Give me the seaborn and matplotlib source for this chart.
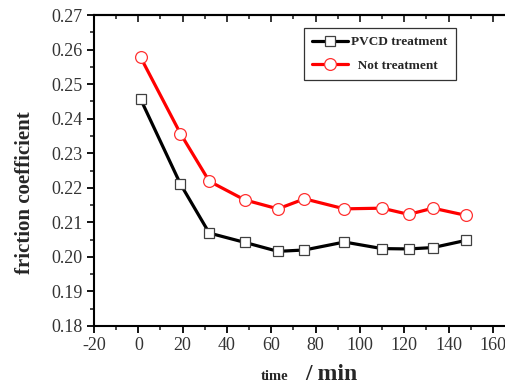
import numpy as np
import pandas as pd
import matplotlib
matplotlib.use("Agg")
import matplotlib.pyplot as plt
from matplotlib.ticker import MultipleLocator, FormatStrFormatter
import seaborn as sns

# values
time_min = [1, 19, 32, 48, 63, 75, 93, 110, 122, 133, 148]
pvcd_treatment = [0.2457, 0.2211, 0.2069, 0.2042, 0.2016, 0.2020, 0.2043, 0.2024, 0.2023, 0.2027, 0.2048]
not_treatment = [0.2578, 0.2357, 0.2219, 0.2165, 0.2139, 0.2168, 0.2139, 0.2141, 0.2123, 0.2141, 0.2120]

series_names = ["PVCD treatment", "Not treatment"]

sns.set_style("ticks")
plt.rcParams["font.family"] = ["Liberation Serif", "DejaVu Serif"]
plt.rcParams["axes.unicode_minus"] = False

fig = plt.figure(figsize=(5.06, 3.87), dpi=100)
ax = fig.add_axes([94 / 506, 1 - 326 / 387, 421 / 506, 311 / 387])

df = pd.DataFrame({"time": time_min, "pvcd": pvcd_treatment, "not": not_treatment})

sns.lineplot(data=df, x="time", y="pvcd", ax=ax, color="black", lw=2.3,
             marker="s", markersize=7, markerfacecolor="white",
             markeredgecolor="#404040", markeredgewidth=0.9,
             label=series_names[0])
sns.lineplot(data=df, x="time", y="not", ax=ax, color="#ff0000", lw=2.3,
             marker="o", markersize=8.5, markerfacecolor="white",
             markeredgecolor="#ff3030", markeredgewidth=0.9,
             label="  " + series_names[1])

ax.set_xlim(-20, 170)
ax.set_ylim(0.18, 0.27)
ax.xaxis.set_major_locator(MultipleLocator(20))
ax.xaxis.set_minor_locator(MultipleLocator(10))
ax.yaxis.set_major_locator(MultipleLocator(0.01))
ax.yaxis.set_minor_locator(MultipleLocator(0.005))
ax.yaxis.set_major_formatter(FormatStrFormatter("%.2f"))

for s in ["left", "bottom", "top"]:
    ax.spines[s].set_linewidth(1.5)
    ax.spines[s].set_color("black")
ax.spines["right"].set_visible(False)

ax.tick_params(which="major", direction="out", length=5, width=1.3,
               labelsize=13, pad=3, colors="black", labelcolor="#333333")
ax.tick_params(which="minor", direction="out", length=3, width=1.2)

# top axis with inward ticks, no labels
top = ax.secondary_xaxis("top")
top.xaxis.set_major_locator(MultipleLocator(20))
top.xaxis.set_minor_locator(MultipleLocator(10))
top.tick_params(which="major", direction="in", length=5, width=1.3, labeltop=False)
top.tick_params(which="minor", direction="in", length=3, width=1.2)
top.spines["top"].set_linewidth(1.5)

ax.set_xlabel("")
ax.set_ylabel("")
fig.text(0.05, 1 - 193 / 387, "friction coefficient", rotation=90,
         fontsize=15, fontweight="bold", ha="center", va="center")
fig.text(288 / 506, 1 - 376 / 387, "time", fontsize=10.5, fontweight="bold",
         ha="right", va="center")
fig.text(305 / 506, 1 - 374 / 387, "/ min", fontsize=17, fontweight="bold",
         ha="left", va="center")

leg = ax.legend(loc="upper left", bbox_to_anchor=(304 / 506, 1 - 28 / 387),
                bbox_transform=fig.transFigure, borderaxespad=0,
                fancybox=False, frameon=True, edgecolor="black",
                prop={"size": 9.5, "weight": "bold"},
                handlelength=2.7, handletextpad=0.3, labelspacing=0.85,
                borderpad=0.6)
leg.get_frame().set_linewidth(0.9)

fig.savefig("out.png", dpi=100)
